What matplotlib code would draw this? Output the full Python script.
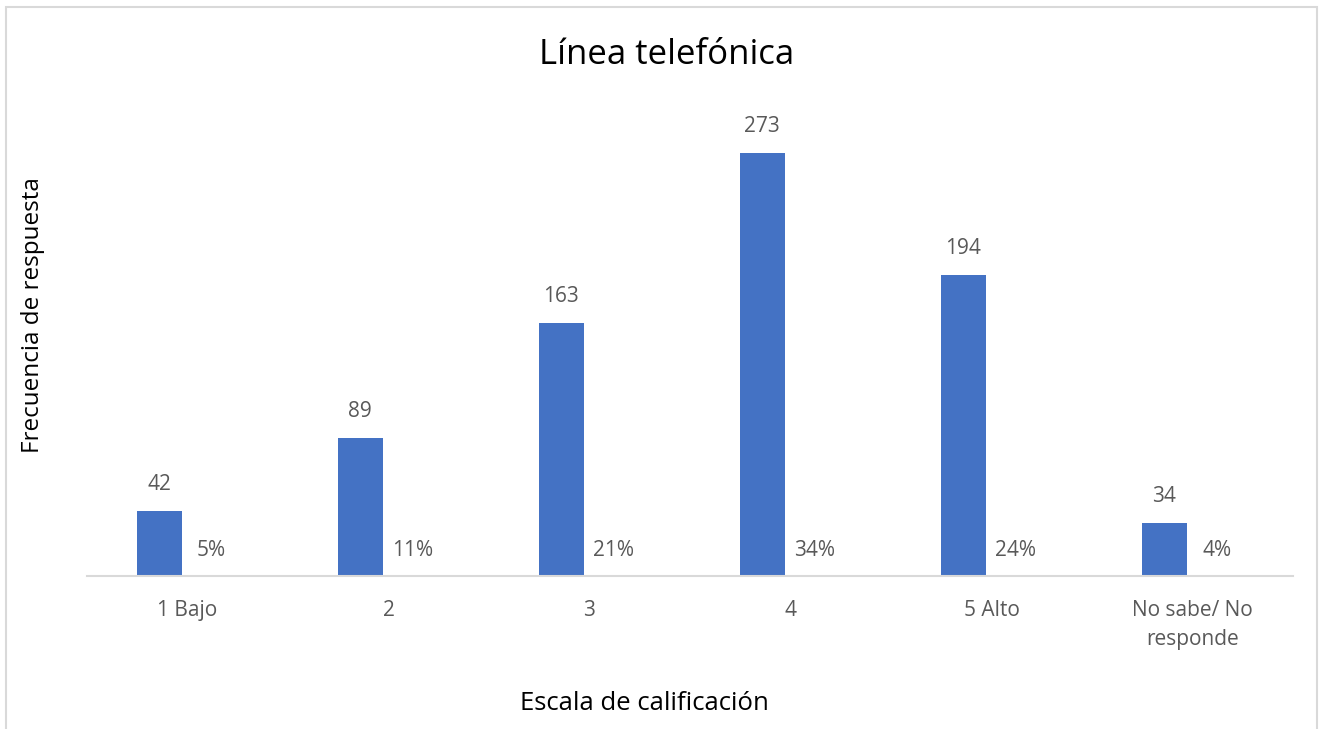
import matplotlib
matplotlib.use("Agg")
import matplotlib.pyplot as plt
import numpy as np

# data
categories = ["1 Bajo", "2", "3", "4", "5 Alto", "No sabe/ No\nresponde"]
counts = [42, 89, 163, 273, 194, 34]
percents = ["5%", "11%", "21%", "34%", "24%", "4%"]

plt.rcParams['font.family'] = ['Open Sans', 'DejaVu Sans']
text_color = "#595959"
bar_color = "#4472C4"

fig = plt.figure(figsize=(13.23, 7.29), dpi=100)
ax = fig.add_axes([87 / 1323, (729 - 576) / 729, (1293 - 87) / 1323, 465 / 729])

x = np.arange(len(categories))
offset = 0.14
width = 0.224
bars = ax.bar(x - offset, counts, width=width, color=bar_color)

# count labels above bars
for xi, c in zip(x - offset, counts):
    ax.annotate(str(c), (xi, c), xytext=(0, 19), textcoords="offset points",
                ha="center", va="center", fontsize=15, color=text_color)

# percent labels (second series, near zero)
for xi, p in zip(x + offset - 0.02, percents):
    ax.annotate(p, (xi, 0), xytext=(0, 18.5), textcoords="offset points",
                ha="center", va="center", fontsize=15, color=text_color)

ax.set_xlim(-0.5, len(categories) - 0.5)
ax.set_ylim(0, 300)
ax.set_xticks(x)
ax.set_xticklabels(categories, fontsize=15, color=text_color, linespacing=1.5)
ax.tick_params(axis="x", length=0, pad=17)
ax.set_yticks([])
for s in ["top", "right", "left"]:
    ax.spines[s].set_visible(False)
ax.spines["bottom"].set_color("#D9D9D9")
ax.spines["bottom"].set_linewidth(1.5)

fig.text(667 / 1323, 1 - 55 / 729, "Línea telefónica", ha="center", va="center",
         fontsize=25, color="black")
fig.text(33 / 1323, 1 - 315 / 729, "Frecuencia de respuesta", ha="center", va="center",
         rotation=90, fontsize=17.5, color="black")
fig.text(644 / 1323, 1 - 704 / 729, "Escala de calificación", ha="center", va="center",
         fontsize=18.5, color="black")

# light outer frame like the chart area border
frame = plt.Rectangle((6 / 1323, -0.01), (1317 - 6) / 1323, 1 - 7 / 729 + 0.01,
                      transform=fig.transFigure, fill=False, edgecolor="#D9D9D9", lw=1.5)
fig.patches.append(frame)

fig.savefig("out.png", dpi=100)
